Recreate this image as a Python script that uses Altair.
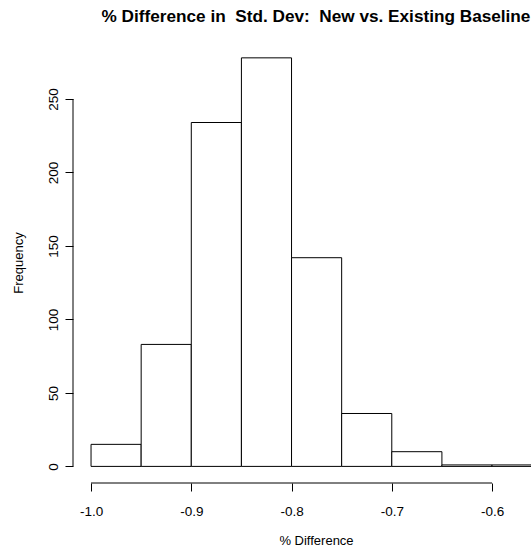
import altair as alt
import pandas as pd

# Histogram data
bin_start = [-1.00, -0.95, -0.90, -0.85, -0.80, -0.75, -0.70, -0.65, -0.60]
bin_end = [-0.95, -0.90, -0.85, -0.80, -0.75, -0.70, -0.65, -0.60, -0.55]
counts = [15, 83, 234, 278, 142, 36, 10, 1, 1]

x_ticks = [-1.0, -0.9, -0.8, -0.7, -0.6]
y_ticks = [0, 50, 100, 150, 200, 250]

title_text = "% Difference in \u00a0Std. Dev: \u00a0New vs. Existing Baseline"
x_title = "% Difference"
y_title = "Frequency"

df = pd.DataFrame({"start": bin_start, "end": bin_end, "count": counts})

W, H = 458, 441
FONT = "Liberation Sans"

xscale = alt.Scale(domain=[-1.018, -1.018 + W / 1002.5], nice=False, zero=False)
yscale = alt.Scale(domain=[-11.3, -11.3 + H / 1.4696], nice=False, zero=False)

xaxis = alt.Axis(
    values=x_ticks, domain=False, grid=False, tickSize=8, tickColor="black",
    tickWidth=1, labelFont=FONT, labelFontSize=13.5, labelColor="black",
    labelPadding=13, labelBaseline="top", labelFlush=False,
    labelExpr="'-' + format(abs(datum.value), '.1f')",
    title=x_title, titleFont=FONT, titleFontSize=13, titleFontWeight="normal",
    titleColor="black", titleX=243, titleY=61, titleBaseline="alphabetic",
    titleAlign="center",
)
yaxis = alt.Axis(
    values=y_ticks, domain=False, grid=False, tickSize=8, tickColor="black",
    tickWidth=1, labelFont=FONT, labelFontSize=13.5, labelColor="black",
    labelAngle=270, labelAlign="center", labelBaseline="alphabetic",
    labelPadding=8, labelFlush=False,
    title=y_title, titleFont=FONT, titleFontSize=13, titleFontWeight="normal",
    titleColor="black", titleAngle=270, titleX=-51, titleY=220.5,
    titleBaseline="alphabetic", titleAlign="center",
)

base = alt.Chart(df)

bars = base.mark_rect(fill="white", stroke="black", strokeWidth=1, clip=True).encode(
    x=alt.X("start:Q", scale=xscale, axis=xaxis),
    x2="end:Q",
    y=alt.Y("count:Q", scale=yscale, axis=yaxis),
    y2=alt.Y2Datum(0),
)

xdom = alt.Chart(pd.DataFrame({"a": [min(x_ticks)], "b": [max(x_ticks)]})).mark_rule(
    color="black", strokeWidth=1
).encode(
    x=alt.X("a:Q", scale=xscale, axis=None),
    x2="b:Q",
    y=alt.value(H),
)

ydom = alt.Chart(pd.DataFrame({"a": [min(y_ticks)], "b": [max(y_ticks)]})).mark_rule(
    color="black", strokeWidth=1
).encode(
    y=alt.Y("a:Q", scale=yscale, axis=None),
    y2="b:Q",
    x=alt.value(0),
)

chart = alt.layer(bars, xdom, ydom).resolve_axis(
    x="independent", y="independent"
).properties(
    width=W,
    height=H,
    background="white",
    autosize=alt.AutoSizeParams(type="none"),
    padding={"left": 73, "top": 42, "right": 0, "bottom": 67},
    title=alt.TitleParams(
        text=title_text, font=FONT, fontSize=17.2, fontWeight="bold",
        color="black", anchor="middle", dx=14, offset=3, baseline="alphabetic",
    ),
).configure_view(stroke=None)

chart.save("out.html", embed_options={"renderer": "svg", "actions": False})
